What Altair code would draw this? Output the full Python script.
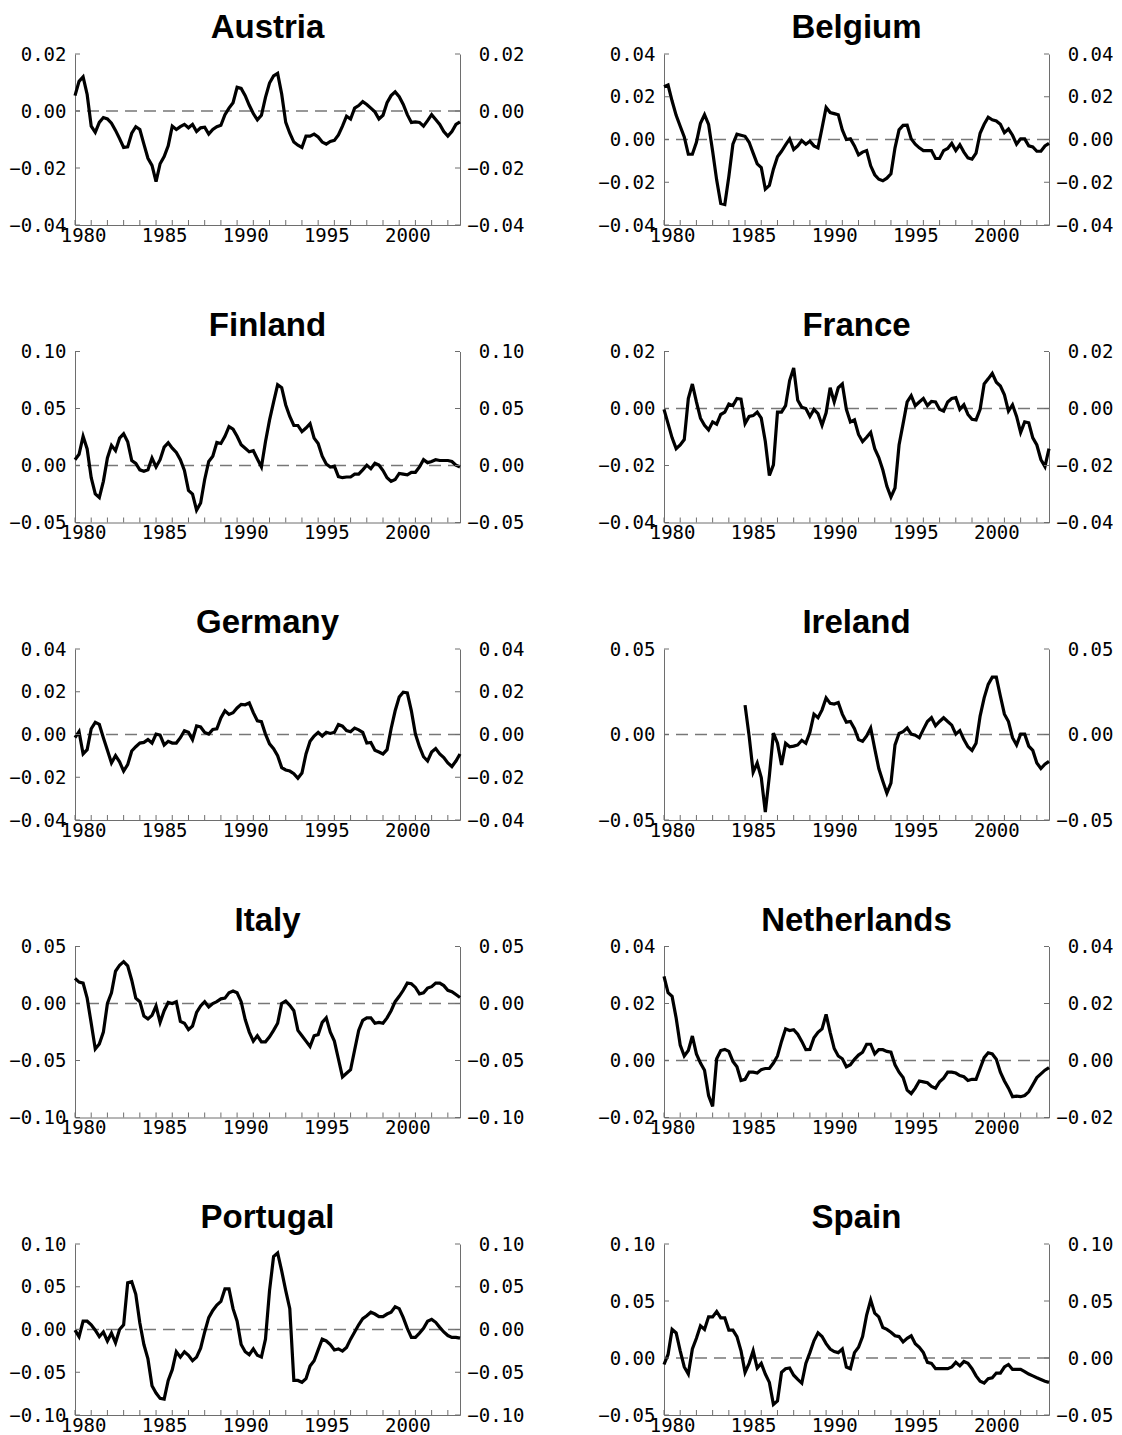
import altair as alt
import pandas as pd

# quarterly observations 1980Q1 .. 2003Q4
START_YEAR = 1980
N_QUARTERS = 96
QTIME = [START_YEAR + i / 4 for i in range(N_QUARTERS)]
# year labels sit in the middle of their year, ticks on year boundaries
XLABEL_POS = [1980.5, 1985.5, 1990.5, 1995.5, 2000.5]
TICK_YEARS = list(range(1980, 2004))

austria = [
    0.0054, 0.0104, 0.0120, 0.0058, -0.0053, -0.0075, -0.0040, -0.0023,
    -0.0028, -0.0043, -0.0068, -0.0097, -0.0128, -0.0126, -0.0078, -0.0055,
    -0.0065, -0.0116, -0.0166, -0.0191, -0.0248, -0.0185, -0.0160, -0.0122,
    -0.0053, -0.0065, -0.0055, -0.0047, -0.0059, -0.0047, -0.0072, -0.0059,
    -0.0057, -0.0081, -0.0065, -0.0055, -0.0050, -0.0013, 0.0010, 0.0029,
    0.0083, 0.0079, 0.0054, 0.0020, -0.0009, -0.0031, -0.0015, 0.0048,
    0.0098, 0.0123, 0.0132, 0.0060, -0.0040, -0.0078, -0.0109, -0.0120,
    -0.0128, -0.0088, -0.0088, -0.0081, -0.0091, -0.0109, -0.0116, -0.0107,
    -0.0103, -0.0084, -0.0053, -0.0018, -0.0028, 0.0010, 0.0019, 0.0033,
    0.0023, 0.0010, -0.0003, -0.0028, -0.0015, 0.0029, 0.0054, 0.0067,
    0.0050, 0.0023, -0.0013, -0.0040, -0.0038, -0.0040, -0.0053, -0.0034,
    -0.0013, -0.0030, -0.0047, -0.0072, -0.0088, -0.0072, -0.0047, -0.0038,
]
belgium = [
    0.0247, 0.0255, 0.0180, 0.0113, 0.0062, 0.0012, -0.0069, -0.0069,
    -0.0013, 0.0076, 0.0116, 0.0071, -0.0055, -0.0190, -0.0299, -0.0304,
    -0.0173, -0.0022, 0.0025, 0.0020, 0.0015, -0.0013, -0.0064, -0.0114,
    -0.0131, -0.0232, -0.0215, -0.0139, -0.0081, -0.0055, -0.0025, 0.0003,
    -0.0047, -0.0030, -0.0005, -0.0022, -0.0008, -0.0030, -0.0039, 0.0054,
    0.0150, 0.0126, 0.0121, 0.0116, 0.0045, 0.0000, 0.0003, -0.0030,
    -0.0072, -0.0059, -0.0052, -0.0123, -0.0165, -0.0186, -0.0193, -0.0181,
    -0.0160, -0.0039, 0.0045, 0.0066, 0.0067, 0.0003, -0.0022, -0.0039,
    -0.0052, -0.0052, -0.0052, -0.0089, -0.0089, -0.0052, -0.0042, -0.0018,
    -0.0052, -0.0025, -0.0059, -0.0086, -0.0092, -0.0064, 0.0029, 0.0071,
    0.0104, 0.0092, 0.0087, 0.0071, 0.0032, 0.0049, 0.0020, -0.0022,
    0.0003, 0.0003, -0.0030, -0.0035, -0.0055, -0.0055, -0.0030, -0.0018,
]
finland = [
    0.0051, 0.0098, 0.0256, 0.0145, -0.0107, -0.0250, -0.0281, -0.0139,
    0.0066, 0.0177, 0.0130, 0.0240, 0.0278, 0.0209, 0.0044, 0.0019,
    -0.0038, -0.0051, -0.0038, 0.0066, -0.0013, 0.0051, 0.0161, 0.0199,
    0.0152, 0.0114, 0.0051, -0.0044, -0.0218, -0.0250, -0.0392, -0.0329,
    -0.0123, 0.0035, 0.0082, 0.0202, 0.0193, 0.0256, 0.0341, 0.0319,
    0.0256, 0.0183, 0.0152, 0.0120, 0.0130, 0.0057, -0.0013, 0.0209,
    0.0398, 0.0556, 0.0708, 0.0683, 0.0531, 0.0430, 0.0351, 0.0351,
    0.0297, 0.0329, 0.0367, 0.0240, 0.0193, 0.0082, 0.0013, -0.0013,
    -0.0006, -0.0098, -0.0107, -0.0101, -0.0101, -0.0076, -0.0076, -0.0038,
    0.0003, -0.0028, 0.0019, 0.0003, -0.0044, -0.0107, -0.0139, -0.0123,
    -0.0070, -0.0076, -0.0082, -0.0060, -0.0060, -0.0013, 0.0051, 0.0025,
    0.0035, 0.0051, 0.0044, 0.0044, 0.0044, 0.0035, 0.0003, -0.0013,
]
france = [
    -0.0003, -0.0053, -0.0103, -0.0141, -0.0128, -0.0109, 0.0035, 0.0086,
    0.0023, -0.0034, -0.0059, -0.0075, -0.0047, -0.0055, -0.0021, -0.0013,
    0.0016, 0.0010, 0.0035, 0.0033, -0.0053, -0.0028, -0.0025, -0.0013,
    -0.0034, -0.0116, -0.0235, -0.0198, -0.0013, -0.0013, 0.0010, 0.0098,
    0.0142, 0.0029, 0.0004, 0.0000, -0.0028, -0.0003, -0.0018, -0.0059,
    -0.0015, 0.0073, 0.0023, 0.0073, 0.0086, -0.0003, -0.0047, -0.0040,
    -0.0091, -0.0116, -0.0101, -0.0084, -0.0141, -0.0172, -0.0216, -0.0273,
    -0.0311, -0.0279, -0.0128, -0.0053, 0.0023, 0.0045, 0.0010, 0.0023,
    0.0035, 0.0010, 0.0025, 0.0023, -0.0003, -0.0009, 0.0023, 0.0035,
    0.0038, -0.0003, 0.0013, -0.0021, -0.0038, -0.0040, -0.0003, 0.0086,
    0.0104, 0.0123, 0.0092, 0.0079, 0.0048, -0.0009, 0.0013, -0.0028,
    -0.0084, -0.0047, -0.0050, -0.0103, -0.0128, -0.0179, -0.0204, -0.0141,
]
germany = [
    -0.0015, 0.0013, -0.0091, -0.0071, 0.0027, 0.0057, 0.0047, -0.0015,
    -0.0074, -0.0133, -0.0099, -0.0128, -0.0171, -0.0141, -0.0077, -0.0057,
    -0.0040, -0.0037, -0.0024, -0.0040, 0.0002, -0.0003, -0.0049, -0.0032,
    -0.0040, -0.0040, -0.0015, 0.0018, 0.0010, -0.0024, 0.0040, 0.0035,
    0.0010, 0.0002, 0.0024, 0.0027, 0.0077, 0.0111, 0.0094, 0.0102,
    0.0124, 0.0141, 0.0139, 0.0148, 0.0102, 0.0064, 0.0060, 0.0002,
    -0.0044, -0.0066, -0.0099, -0.0155, -0.0166, -0.0171, -0.0183, -0.0205,
    -0.0180, -0.0091, -0.0032, -0.0007, 0.0010, -0.0007, 0.0010, 0.0005,
    0.0010, 0.0047, 0.0039, 0.0018, 0.0013, 0.0030, 0.0022, 0.0010,
    -0.0040, -0.0037, -0.0074, -0.0082, -0.0091, -0.0071, 0.0027, 0.0111,
    0.0175, 0.0198, 0.0195, 0.0111, 0.0002, -0.0057, -0.0104, -0.0124,
    -0.0082, -0.0066, -0.0091, -0.0108, -0.0133, -0.0150, -0.0124, -0.0091,
]
ireland = [
    None, None, None, None, None, None, None, None,
    None, None, None, None, None, None, None, None,
    None, None, None, None, 0.0172, -0.0008, -0.0220, -0.0167,
    -0.0252, -0.0454, -0.0242, 0.0008, -0.0051, -0.0178, -0.0051, -0.0072,
    -0.0068, -0.0061, -0.0034, -0.0051, 0.0013, 0.0119, 0.0098, 0.0144,
    0.0214, 0.0182, 0.0178, 0.0187, 0.0119, 0.0072, 0.0076, 0.0034,
    -0.0030, -0.0040, -0.0008, 0.0038, -0.0083, -0.0199, -0.0273, -0.0343,
    -0.0284, -0.0061, 0.0006, 0.0017, 0.0038, 0.0002, -0.0004, -0.0019,
    0.0030, 0.0076, 0.0098, 0.0051, 0.0076, 0.0098, 0.0076, 0.0055,
    0.0002, 0.0023, -0.0030, -0.0072, -0.0093, -0.0051, 0.0108, 0.0214,
    0.0293, 0.0335, 0.0335, 0.0225, 0.0119, 0.0076, -0.0019, -0.0061,
    0.0002, 0.0002, -0.0068, -0.0093, -0.0167, -0.0199, -0.0174, -0.0157,
]
italy = [
    0.0220, 0.0188, 0.0179, 0.0047, -0.0173, -0.0399, -0.0355, -0.0251,
    0.0000, 0.0094, 0.0283, 0.0336, 0.0367, 0.0330, 0.0204, 0.0047,
    0.0016, -0.0110, -0.0135, -0.0104, -0.0022, -0.0166, -0.0063, 0.0009,
    0.0000, 0.0016, -0.0157, -0.0173, -0.0229, -0.0198, -0.0079, -0.0022,
    0.0016, -0.0031, 0.0000, 0.0016, 0.0041, 0.0047, 0.0094, 0.0110,
    0.0094, 0.0016, -0.0141, -0.0251, -0.0330, -0.0283, -0.0336, -0.0336,
    -0.0292, -0.0236, -0.0173, 0.0000, 0.0022, -0.0016, -0.0063, -0.0236,
    -0.0283, -0.0330, -0.0377, -0.0283, -0.0273, -0.0166, -0.0126, -0.0251,
    -0.0330, -0.0487, -0.0644, -0.0612, -0.0581, -0.0408, -0.0236, -0.0148,
    -0.0126, -0.0126, -0.0173, -0.0166, -0.0173, -0.0126, -0.0063, 0.0016,
    0.0063, 0.0116, 0.0179, 0.0173, 0.0141, 0.0085, 0.0094, 0.0135,
    0.0148, 0.0179, 0.0179, 0.0157, 0.0116, 0.0104, 0.0079, 0.0053,
]
netherlands = [
    0.0295, 0.0238, 0.0225, 0.0149, 0.0054, 0.0016, 0.0035, 0.0086,
    0.0023, -0.0009, -0.0034, -0.0123, -0.0161, 0.0006, 0.0035, 0.0039,
    0.0032, -0.0003, -0.0022, -0.0070, -0.0066, -0.0041, -0.0041, -0.0044,
    -0.0032, -0.0028, -0.0028, -0.0009, 0.0016, 0.0067, 0.0111, 0.0105,
    0.0108, 0.0092, 0.0067, 0.0038, 0.0039, 0.0080, 0.0099, 0.0111,
    0.0162, 0.0099, 0.0042, 0.0016, 0.0006, -0.0022, -0.0015, 0.0004,
    0.0019, 0.0029, 0.0057, 0.0057, 0.0023, 0.0038, 0.0038, 0.0032,
    0.0029, -0.0015, -0.0041, -0.0060, -0.0104, -0.0116, -0.0097, -0.0072,
    -0.0075, -0.0078, -0.0091, -0.0097, -0.0075, -0.0062, -0.0041, -0.0041,
    -0.0044, -0.0053, -0.0057, -0.0070, -0.0066, -0.0066, -0.0028, 0.0010,
    0.0027, 0.0023, 0.0004, -0.0041, -0.0072, -0.0097, -0.0127, -0.0125,
    -0.0127, -0.0123, -0.0110, -0.0085, -0.0060, -0.0047, -0.0034, -0.0025,
]
portugal = [
    -0.0008, -0.0084, 0.0097, 0.0097, 0.0055, -0.0008, -0.0084, -0.0029,
    -0.0134, -0.0042, -0.0155, 0.0000, 0.0055, 0.0546, 0.0559, 0.0412,
    0.0076, -0.0176, -0.0344, -0.0659, -0.0743, -0.0806, -0.0815, -0.0596,
    -0.0470, -0.0260, -0.0323, -0.0260, -0.0302, -0.0365, -0.0323, -0.0218,
    -0.0029, 0.0139, 0.0223, 0.0286, 0.0328, 0.0475, 0.0475, 0.0244,
    0.0097, -0.0176, -0.0260, -0.0294, -0.0227, -0.0302, -0.0323, -0.0113,
    0.0454, 0.0853, 0.0895, 0.0685, 0.0454, 0.0244, -0.0596, -0.0596,
    -0.0617, -0.0575, -0.0428, -0.0365, -0.0239, -0.0113, -0.0134, -0.0176,
    -0.0239, -0.0227, -0.0252, -0.0210, -0.0113, -0.0029, 0.0055, 0.0126,
    0.0160, 0.0202, 0.0181, 0.0151, 0.0151, 0.0181, 0.0202, 0.0265,
    0.0244, 0.0139, 0.0013, -0.0092, -0.0092, -0.0042, 0.0013, 0.0097,
    0.0118, 0.0084, 0.0025, -0.0029, -0.0071, -0.0092, -0.0092, -0.0101,
]
spain = [
    -0.0057, 0.0031, 0.0251, 0.0220, 0.0063, -0.0079, -0.0141, 0.0079,
    0.0173, 0.0283, 0.0251, 0.0361, 0.0361, 0.0408, 0.0352, 0.0352,
    0.0245, 0.0245, 0.0188, 0.0063, -0.0126, -0.0047, 0.0063, -0.0088,
    -0.0047, -0.0141, -0.0214, -0.0408, -0.0377, -0.0126, -0.0094, -0.0088,
    -0.0151, -0.0188, -0.0220, -0.0047, 0.0047, 0.0151, 0.0220, 0.0188,
    0.0126, 0.0079, 0.0057, 0.0047, 0.0079, -0.0079, -0.0094, 0.0047,
    0.0094, 0.0188, 0.0377, 0.0509, 0.0393, 0.0361, 0.0267, 0.0251,
    0.0226, 0.0195, 0.0188, 0.0141, 0.0173, 0.0195, 0.0126, 0.0094,
    0.0047, -0.0038, -0.0047, -0.0094, -0.0094, -0.0094, -0.0094, -0.0079,
    -0.0038, -0.0069, -0.0031, -0.0047, -0.0094, -0.0157, -0.0204, -0.0220,
    -0.0182, -0.0173, -0.0132, -0.0132, -0.0079, -0.0057, -0.0100, -0.0100,
    -0.0100, -0.0119, -0.0141, -0.0157, -0.0173, -0.0188, -0.0204, -0.0214,
]

PANELS = [
    ("Austria", austria, [-0.04, -0.02, 0.0, 0.02]),
    ("Belgium", belgium, [-0.04, -0.02, 0.0, 0.02, 0.04]),
    ("Finland", finland, [-0.05, 0.0, 0.05, 0.10]),
    ("France", france, [-0.04, -0.02, 0.0, 0.02]),
    ("Germany", germany, [-0.04, -0.02, 0.0, 0.02, 0.04]),
    ("Ireland", ireland, [-0.05, 0.0, 0.05]),
    ("Italy", italy, [-0.10, -0.05, 0.0, 0.05]),
    ("Netherlands", netherlands, [-0.02, 0.0, 0.02, 0.04]),
    ("Portugal", portugal, [-0.10, -0.05, 0.0, 0.05, 0.10]),
    ("Spain", spain, [-0.05, 0.0, 0.05, 0.10]),
]

W = 385
H = 171
AXC = "#6e6e6e"
LFONT = "DejaVu Sans Mono"
LSIZE = 19


def panel(name, values, yticks):
    df = pd.DataFrame({"t": QTIME, "v": values}).dropna()
    ys = alt.Scale(domain=[yticks[0], yticks[-1]], nice=False, zero=False)
    xs = alt.Scale(domain=[QTIME[0], QTIME[-1]], nice=False, zero=False)

    zero = alt.Chart(pd.DataFrame({"z": [0.0]})).mark_rule(
        color="#777777", strokeDash=[12, 7], strokeWidth=1.5
    ).encode(
        y=alt.Y("z:Q", scale=ys, axis=alt.Axis(
            orient="right", values=yticks, format=".2f", title=None,
            ticks=False, labelPadding=64, labelAlign="right",
            labelFlush=False, grid=False)),
    )
    line = alt.Chart(df).mark_line(color="black", strokeWidth=3.2).encode(
        x=alt.X("t:Q", scale=xs, axis=alt.Axis(
            orient="bottom", values=XLABEL_POS,
            labelExpr="floor(datum.value)", title=None, ticks=False,
            labelPadding=1, labelFlush=False, grid=False, domain=True)),
        y=alt.Y("v:Q", scale=ys, axis=alt.Axis(
            orient="left", values=yticks, format=".2f", title=None,
            ticks=False, labelPadding=9, labelFlush=False, grid=False)),
    )
    ytk = pd.DataFrame({"y": yticks})
    lt = alt.Chart(ytk).mark_rule(color=AXC, strokeWidth=1).encode(
        y=alt.Y("y:Q", scale=ys, axis=None), x=alt.value(0), x2=alt.value(5))
    rt = alt.Chart(ytk).mark_rule(color=AXC, strokeWidth=1).encode(
        y=alt.Y("y:Q", scale=ys, axis=None), x=alt.value(W - 5), x2=alt.value(W))
    xt = alt.Chart(pd.DataFrame({"yr": TICK_YEARS})).mark_rule(
        color=AXC, strokeWidth=1).encode(
        x=alt.X("yr:Q", scale=xs, axis=None), y=alt.value(H), y2=alt.value(H - 5))

    return alt.layer(zero, line, lt, rt, xt).resolve_axis(
        x="independent", y="independent"
    ).properties(
        width=W, height=H,
        title=alt.TitleParams(
            text=name, font="Liberation Sans", fontSize=33, fontWeight="bold",
            anchor="middle", offset=0, color="black"),
    )


charts = [panel(n, v, t) for n, v, t in PANELS]
rows = [alt.hconcat(charts[i], charts[i + 1], spacing=73) for i in range(0, 10, 2)]
chart = alt.vconcat(*rows, spacing=64.5).properties(
    padding={"left": 0, "top": 4, "right": 0, "bottom": 0}
).configure_view(stroke=None).configure_axis(
    domainColor=AXC, domainWidth=1, labelColor="black",
    labelFont=LFONT, labelFontSize=LSIZE,
)

chart.save("out.html", embed_options={"renderer": "svg", "actions": False})
